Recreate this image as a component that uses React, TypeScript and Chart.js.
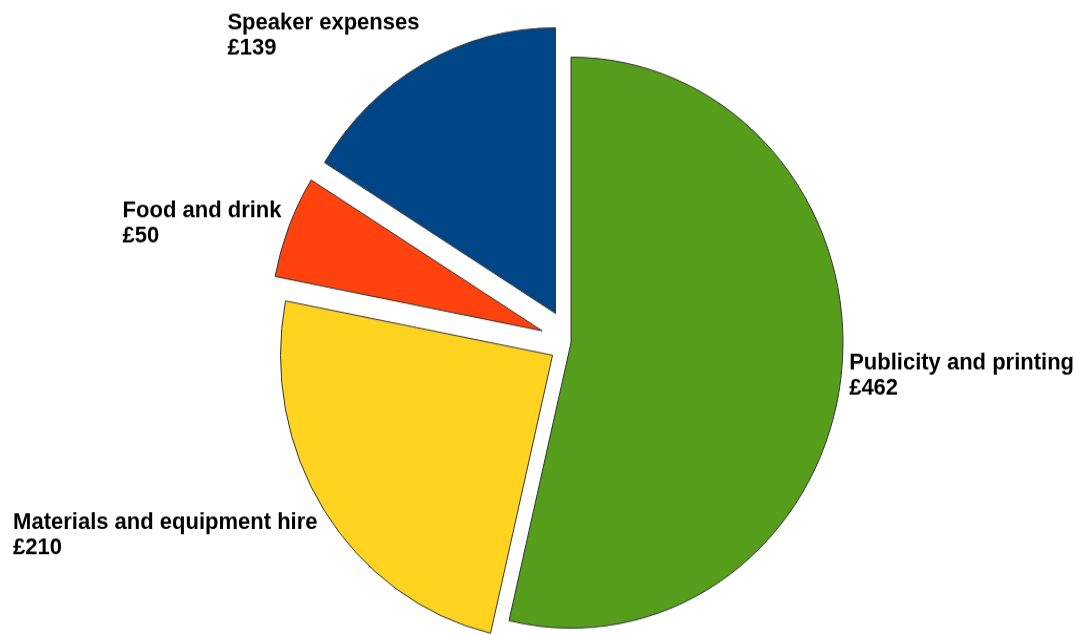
import React, { useEffect, useRef } from "react";
import { Chart, registerables } from "chart.js";

Chart.register(...registerables);

// ---- data ----
const categories = [
  "Publicity and printing",
  "Materials and equipment hire",
  "Food and drink",
  "Speaker expenses",
];
const amounts = [462, 210, 50, 139];
const valueLabels = ["£462", "£210", "£50", "£139"];
const sliceColors = ["#579d1c", "#ffd320", "#ff420e", "#004586"];
const explodeOffsets = [0, 22, 31, 32];

// ---- layout ----
const W = 1074;
const H = 635;
const CH = 605; // internal canvas height; stretched vertically by CSS to H
const S = H / CH;
const FONT = "bold 22px 'Liberation Sans', Arial, sans-serif";
const LINE_GAP = 25;
const CAP = 16;
const LABEL_GAP = 8;

export default function App() {
  const ref = useRef<HTMLCanvasElement>(null);

  useEffect(() => {
    const canvas = ref.current;
    if (!canvas) return;

    const explodePlugin = {
      id: "explodeAndLabels",
      beforeDatasetDraw(chart: any, args: any) {
        const meta = chart.getDatasetMeta(args.index);
        const ctx = chart.ctx;
        meta.data.forEach((el: any, i: number) => {
          const a = (el.startAngle + el.endAngle) / 2;
          const d = explodeOffsets[i] || 0;
          ctx.save();
          ctx.translate(Math.cos(a) * d, Math.sin(a) * d);
          el.draw(ctx);
          ctx.restore();
        });
        return false;
      },
      afterDraw(chart: any) {
        const ctx = chart.ctx;
        const meta = chart.getDatasetMeta(0);
        ctx.save();
        ctx.font = FONT;
        ctx.fillStyle = "#000000";
        ctx.textBaseline = "alphabetic";
        ctx.textAlign = "left";
        meta.data.forEach((el: any, i: number) => {
          const a = (el.startAngle + el.endAngle) / 2;
          const dx = Math.cos(a);
          const dy = Math.sin(a);
          const r = el.outerRadius + (explodeOffsets[i] || 0);
          // anchor point in screen coordinates
          const px = el.x + dx * r + dx * LABEL_GAP;
          const py = (el.y + dy * r) * S + dy * LABEL_GAP;
          const l1 = categories[i];
          const l2 = valueLabels[i];
          const w = Math.max(ctx.measureText(l1).width, ctx.measureText(l2).width);
          const left = dx >= 0 ? px : px - w;
          let base1: number;
          if (dy > 0.45) base1 = py + CAP;
          else if (dy < -0.45) base1 = py - LINE_GAP;
          else base1 = py - (CAP + LINE_GAP) / 2 + CAP;
          base1 -= 2;
          ctx.fillText(l1, left, base1 / S);
          ctx.fillText(l2, left, (base1 + LINE_GAP) / S);
        });
        ctx.restore();
      },
    };

    const chart = new Chart(canvas, {
      type: "pie",
      data: {
        labels: categories,
        datasets: [
          {
            data: amounts,
            backgroundColor: sliceColors,
            borderColor: "#333333",
            borderWidth: 1,
            borderJoinStyle: "miter",
          } as any,
        ],
      },
      options: {
        responsive: false,
        animation: false,
        events: [],
        radius: 272,
        layout: { padding: { left: 68, right: 0, top: 48, bottom: 0 } },
        plugins: {
          legend: { display: false },
          tooltip: { enabled: false },
        },
      } as any,
      plugins: [explodePlugin as any],
    });

    return () => chart.destroy();
  }, []);

  return (
    <canvas
      ref={ref}
      width={W}
      height={CH}
      style={{
        position: "fixed",
        left: 0,
        top: 0,
        width: `${W}px`,
        height: `${CH}px`,
        transform: `scaleY(${S})`,
        transformOrigin: "0 0",
        background: "#ffffff",
      }}
    />
  );
}
